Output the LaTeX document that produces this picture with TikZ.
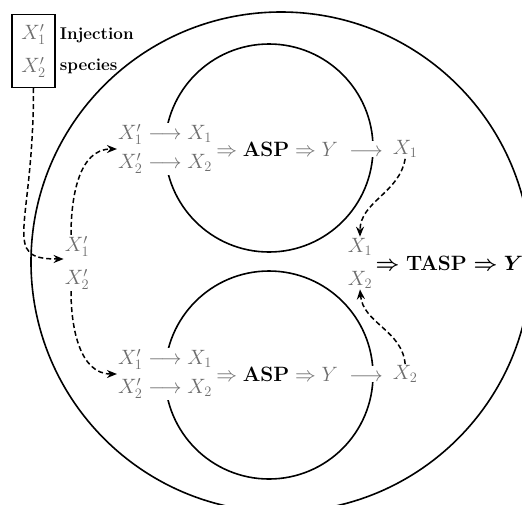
\documentclass[tikz,border=0pt]{standalone}
\usepackage{amsmath, amssymb}
\usepackage{xcolor}
\usetikzlibrary{arrows.meta, positioning}
\definecolor{spec-grey}{HTML}{6E6E6E}

\begin{document}
\begin{tikzpicture}[x=1pt, y=-1pt,
      every node/.style={font=\fontsize{22}{28}\selectfont, text=spec-grey, inner sep=1pt},
      wall/.style={line width=1.6pt},
      feed/.style={line width=1.5pt, dash pattern=on 5pt off 3pt,
        -{Stealth[length=10pt, width=8pt]}},
      mask/.style={fill=white}]
    \useasboundingbox (0,0) rectangle (522,504);
    % tank and the two ASP units
    \draw[wall] (281,262) circle[radius=250pt];
    \draw[wall] (269,148) circle[radius=104pt];
    \draw[wall] (269,375) circle[radius=104pt];
    % injection species
    \node[draw=black, line width=1.4pt, minimum width=43pt, minimum height=73pt,
          align=center] (inj) at (33.5,51) {$X'_1$\\[5pt]$X'_2$};
    \node[right=3pt of inj, text=black, align=left,
          font=\fontsize{17}{31}\selectfont\bfseries] (injlab) {Injection\\species};
    \node[align=center] (mixL) at (77,263) {$X'_1$\\[5pt]$X'_2$};
    \foreach \n/\y/\k in {A/149/1, B/374/2} {
      \node[mask, align=center] (r\n) at (165,\y)
        {$X'_1 \longrightarrow X_1$\\[1pt]$X'_2 \longrightarrow X_2$};
      \node[mask, right=2pt of r\n] (p\n)
        {$\Rightarrow \textcolor{black}{\mathbf{ASP}} \Rightarrow Y \;\longrightarrow\;$};
      \node[right=2pt of p\n] (o\n) {$X_\k$};
    }
    \node[align=center] (mixR) at (360,263) {$X_1$\\[5pt]$X_2$};
    \node[right=1pt of mixR, text=black, font=\fontsize{22}{28}\selectfont\boldmath] (tasp)
      {$\Rightarrow \mathbf{TASP} \Rightarrow Y$};
    % dashed feeds
    \draw[feed] (inj.south) .. controls (33.5,230) and (0,259) .. ([yshift=4pt]mixL.west);
    \draw[feed] ([xshift=-6pt]mixL.north) to[out=90, in=180] (rA.west);
    \draw[feed] ([xshift=-6pt]mixL.south) to[out=-90, in=180] (rB.west);
    \draw[feed] (oA.south) to[out=-100, in=90] (mixR.north);
    \draw[feed] (oB.north) to[out=95, in=-85] (mixR.south);
\end{tikzpicture}
\end{document}
